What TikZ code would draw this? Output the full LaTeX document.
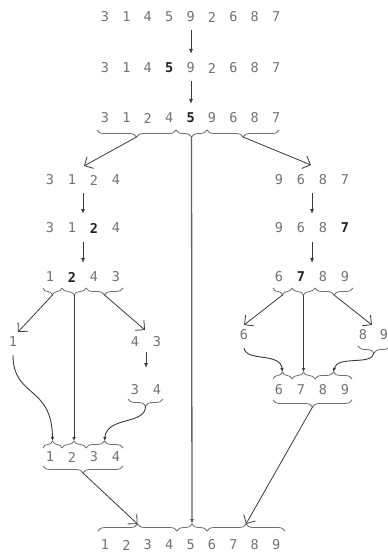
\documentclass[tikz,border=0pt]{standalone}
\usepackage{fontspec}
\newfontfamily\digfont{DejaVu Sans Mono}
\usetikzlibrary{arrows.meta,decorations.pathreplacing}

\definecolor{digitgray}{HTML}{727272}
\definecolor{pivotink}{HTML}{202020}
\definecolor{linegray}{HTML}{3A3A3A}
\definecolor{bracegray}{HTML}{6E6E6E}

\tikzset{
  dig/.style={font=\digfont\fontsize{13.5bp}{13.5bp}\selectfont, text=digitgray, inner sep=0pt},
  piv/.style={font=\digfont\bfseries\fontsize{13.5bp}{13.5bp}\selectfont, text=pivotink, inner sep=0pt},
  under/.style={draw=bracegray, line width=0.8pt, decorate,
                decoration={brace, mirror, amplitude=7bp}},
  over/.style={draw=bracegray, line width=0.8pt, decorate,
               decoration={brace, amplitude=7bp}},
  steparrow/.style={draw=linegray, line width=0.9pt, -{Latex[length=5bp,width=4bp]}},
  splitarrow/.style={draw=linegray, line width=0.8pt, -{Straight Barb[angle=90:9.5bp]}},
  mergearrow/.style={draw=linegray, line width=0.9pt, -{Latex[length=4bp,width=3.5bp]}},
  longarrow/.style={draw=linegray!80, line width=1.3pt, -{Latex[length=5bp,width=4bp]}},
}

\begin{document}
\begin{tikzpicture}[x=1bp,y=-1bp]
\useasboundingbox[fill=white] (0,0) rectangle (387,552);

% ---------- the full array and its first partition ----------
\foreach \d/\s [count=\i] in {3/dig,1/dig,4/dig,5/dig,9/dig,2/dig,6/dig,8/dig,7/dig}
  \node[\s] (a\i) at ({105+21.4*(\i-1)},17) {\d};
\foreach \d/\s [count=\i] in {3/dig,1/dig,4/dig,5/piv,9/dig,2/dig,6/dig,8/dig,7/dig}
  \node[\s] (b\i) at ({105+21.4*(\i-1)},68) {\d};
\foreach \d/\s [count=\i] in {3/dig,1/dig,2/dig,4/dig,5/piv,9/dig,6/dig,8/dig,7/dig}
  \node[\s] (c\i) at ({105+21.4*(\i-1)},118) {\d};

\coordinate (a5s) at (191,30);  \coordinate (b5n) at (191,54);
\coordinate (b5s) at (191,81);  \coordinate (c5n) at (191,104);
\draw[steparrow] (a5s) -- (b5n);
\draw[steparrow] (b5s) -- (c5n);

\draw[under] (97,130) -- (176,130);
\draw[under] (176,130) -- (207,130);
\draw[under] (207,130) -- (279,130);
\coordinate (cL) at (136.5,137);
\coordinate (cM) at (191.5,137);
\coordinate (cR) at (243,137);

% ---------- left part ----------
\foreach \d/\s [count=\i] in {3/dig,1/dig,2/dig,4/dig}
  \node[\s] (l\i) at ({50+22*(\i-1)},180) {\d};
\foreach \d/\s [count=\i] in {3/dig,1/dig,2/piv,4/dig}
  \node[\s] (m\i) at ({50+22*(\i-1)},228) {\d};
\foreach \d/\s [count=\i] in {1/dig,2/piv,4/dig,3/dig}
  \node[\s] (n\i) at ({50+22*(\i-1)},277) {\d};

\coordinate (lin) at (84,166);
\draw[splitarrow] (cL) -- (lin);
\coordinate (l1s) at (83,193); \coordinate (m1n) at (83,214);
\coordinate (m1s) at (83,242); \coordinate (n1n) at (83,263);
\draw[steparrow] (l1s) -- (m1n);
\draw[steparrow] (m1s) -- (n1n);

\draw[under] (43,288) -- (62,288);
\draw[under] (62,288) -- (86,288);
\draw[under] (86,288) -- (123,288);
\coordinate (nL) at (52.5,295);
\coordinate (nM) at (74,295);
\coordinate (nR) at (104.5,295);

\node[dig] (one) at (13,342) {1};
\node[dig] (p1) at (135,342) {4};
\node[dig] (p2) at (157,342) {3};
\node[dig] (q1) at (135,390) {3};
\node[dig] (q2) at (157,390) {4};

\coordinate (onein) at (18,332);
\coordinate (pin) at (145,330);
\draw[splitarrow] (nL) -- (onein);
\draw[splitarrow] (nR) -- (pin);
\coordinate (ps) at (146,352); \coordinate (qn) at (146,368);
\draw[steparrow] (ps) -- (qn);
\draw[under] (128,399) -- (163,399);
\coordinate (qT) at (145.5,406);

% merged left part
\draw[over] (43,448) -- (62,448);
\draw[over] (62,448) -- (86,448);
\draw[over] (86,448) -- (123,448);
\coordinate (sL) at (52.5,441);
\coordinate (sM) at (74,441);
\coordinate (sR) at (104.5,441);
\foreach \d [count=\i] in {1,2,3,4}
  \node[dig] (s\i) at ({50+22*(\i-1)},457) {\d};
\draw[under] (43,466) -- (123,466);
\coordinate (sT) at (83,473);

\coordinate (ones) at (13,355);
\draw[mergearrow] (ones) .. controls (13,398) and (52,385) .. (sL);
\draw[mergearrow] (nM) -- (sM);
\draw[mergearrow] (qT) .. controls (146,425) and (107,416) .. (sR);

% ---------- right part ----------
\foreach \d/\s [count=\i] in {9/dig,6/dig,8/dig,7/dig}
  \node[\s] (r\i) at ({279+22*(\i-1)},180) {\d};
\foreach \d/\s [count=\i] in {9/dig,6/dig,8/dig,7/piv}
  \node[\s] (t\i) at ({279+22*(\i-1)},228) {\d};
\foreach \d/\s [count=\i] in {6/dig,7/piv,8/dig,9/dig}
  \node[\s] (u\i) at ({279+22*(\i-1)},277) {\d};

\coordinate (rin) at (311,165);
\draw[splitarrow] (cR) -- (rin);
\coordinate (r1s) at (312,193); \coordinate (t1n) at (312,214);
\coordinate (t1s) at (312,242); \coordinate (u1n) at (312,263);
\draw[steparrow] (r1s) -- (t1n);
\draw[steparrow] (t1s) -- (u1n);

\draw[under] (273,288) -- (292,288);
\draw[under] (292,288) -- (315,288);
\draw[under] (315,288) -- (353,288);
\coordinate (uL) at (282.5,295);
\coordinate (uM) at (303.5,295);
\coordinate (uR) at (334,295);

\node[dig] (six) at (244,335) {6};
\node[dig] (w1) at (363,335) {8};
\node[dig] (w2) at (384,335) {9};
\coordinate (sixin) at (244,325);
\coordinate (win) at (372,325);
\draw[splitarrow] (uL) -- (sixin);
\draw[splitarrow] (uR) -- (win);
\draw[under] (358,346) -- (390,346);
\coordinate (wT) at (374,353);

% merged right part
\draw[over] (273,379) -- (292,379);
\draw[over] (292,379) -- (315,379);
\draw[over] (315,379) -- (352,379);
\coordinate (vL) at (282.5,372);
\coordinate (vM) at (303.5,372);
\coordinate (vR) at (333.5,372);
\foreach \d [count=\i] in {6,7,8,9}
  \node[dig] (v\i) at ({279+22*(\i-1)},390) {\d};
\draw[under] (273,400) -- (352,400);
\coordinate (vT) at (312.5,407);

\coordinate (sixs) at (244,348);
\draw[mergearrow] (sixs) .. controls (246,362) and (280,352) .. (vL);
\draw[mergearrow] (uM) -- (vM);
\draw[mergearrow] (wT) .. controls (372,366) and (337,355) .. (vR);

% ---------- final merge ----------
\draw[over] (98,531) -- (177,531);
\draw[over] (177,531) -- (207,531);
\draw[over] (207,531) -- (285,531);
\coordinate (fL) at (137.5,524);
\coordinate (fM) at (192,524);
\coordinate (fR) at (246,524);
\foreach \d [count=\i] in {1,2,3,4,5,6,7,8,9}
  \node[dig] (f\i) at ({105+21.4*(\i-1)},545) {\d};

\draw[splitarrow] (sT) -- (fL);
\draw[longarrow] (cM) -- (fM);
\draw[splitarrow] (vT) -- (fR);
\end{tikzpicture}
\end{document}
